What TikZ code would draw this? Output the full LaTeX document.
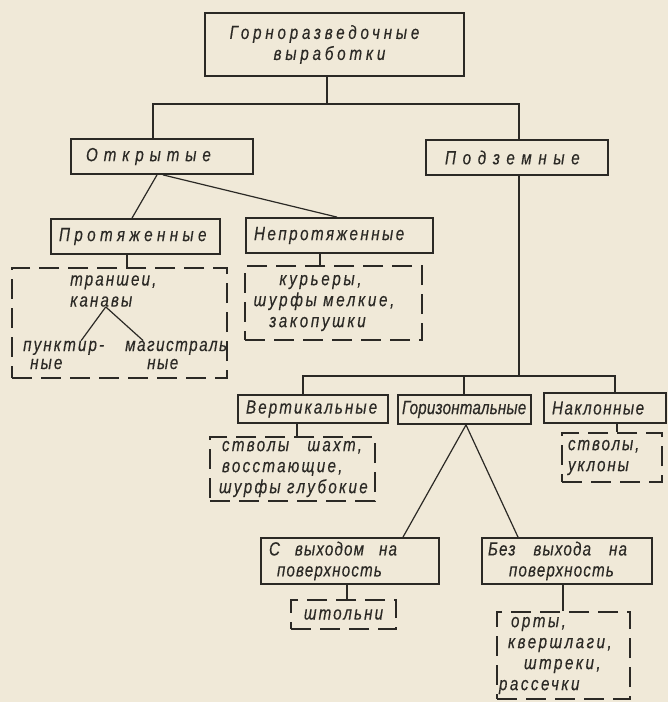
\documentclass[tikz,border=0pt]{standalone}
\usepackage{fontspec}
\setmainfont{Liberation Sans}
\definecolor{paper}{HTML}{F0E9D8}
\definecolor{ink}{HTML}{2B2925}
\newcommand\gost[1]{\fontsize{19}{21}\selectfont\itshape\addfontfeatures{FakeStretch=0.8,FakeBold=0.3,LetterSpace=#1}}
\begin{document}
\begin{tikzpicture}[x=1pt,y=-1pt,
  box/.style={draw=ink,line width=1.8pt,text=ink,inner xsep=8pt,inner ysep=0pt,align=left},
  dbox/.style={draw=ink,line width=1.4pt,dash pattern=on 20pt off 9pt,text=ink,inner xsep=8pt,inner ysep=0pt,align=left},
  lbl/.style={text=ink,inner sep=0pt,align=left},
  con/.style={draw=ink,line width=1.2pt}]
\fill[paper] (0,0) rectangle (668,702);
\useasboundingbox (0,0) rectangle (668,702);
\node[box,align=center,text width=243pt,minimum height=63pt,font=\gost{20}] (top) at (334.5,44.5) {\hspace*{-20pt}Горноразведочные\\\hspace*{-10pt}выработки};
\node[box,text width=166pt,minimum height=35pt,font=\gost{31}] (otkr) at (162,156.5) {\hspace*{7pt}Открытые};
\node[box,text width=166pt,minimum height=35pt,font=\gost{35}] (podz) at (517,157.5) {\hspace*{11pt}Подземные};
\node[box,text width=153pt,minimum height=35pt,font=\gost{23}] (prot) at (135.5,236.5) {Протяженные};
\node[box,text width=171pt,minimum height=35pt,font=\gost{13}] (neprot) at (339.5,235.5) {Непротяженные};
\node[dbox,minimum width=215pt,minimum height=110pt] (trb) at (119.5,323) {};
\node[lbl,anchor=west,font=\gost{11}] (tr) at (70,291) {траншеи,\\канавы};
\node[lbl,anchor=west,font=\gost{11}] (pk) at (23,355) {пунктир-\\[-3pt]\hspace*{7pt}ные};
\node[lbl,anchor=west,font=\gost{8}] (mg) at (125,355) {магистраль\\[-3pt]\hspace*{22pt}ные};
\node[dbox,align=center,inner xsep=5pt,text width=167pt,minimum height=74pt,font=\gost{14}] (kur) at (333.5,303) {\hspace*{-26pt}курьеры,\\\hspace*{-19pt}шурфы мелкие,\\\hspace*{-32pt}закопушки};
\node[box,text width=134pt,minimum height=28pt,font=\gost{11}] (vert) at (313,409) {Вертикальные};
\node[box,inner xsep=4pt,text width=125pt,minimum height=29pt,font=\gost{1}] (horiz) at (464.5,409.5) {Горизонтальные};
\node[box,text width=106pt,minimum height=30pt,font=\gost{8}] (nakl) at (605,408) {Наклонные};
\node[dbox,inner xsep=7pt,text width=151pt,minimum height=64pt,font=\gost{12}] (stv) at (292.5,469) {\hspace*{5pt}\makebox[140pt]{стволы\hfill шахт,}\\\hspace*{5pt}восстающие,\\\hspace*{2pt}\mbox{шурфы глубокие}};
\node[dbox,inner xsep=6pt,text width=88pt,minimum height=49pt,font=\gost{10}] (ukl) at (612,457.5) {стволы,\\уклоны};
\node[box,text width=162pt,minimum height=46pt,font=\gost{6}] (svyh) at (350,561) {\makebox[128pt]{С\hfill выходом\hfill на}\\\hspace*{8pt}поверхность};
\node[box,inner xsep=6pt,text width=158pt,minimum height=46pt,font=\gost{6}] (bezvyh) at (567,561) {\makebox[139pt]{Без\hfill выхода\hfill на}\\\hspace*{21pt}поверхность};
\node[dbox,align=center,inner xsep=7pt,text width=91pt,minimum height=29pt,font=\gost{11}] (shtol) at (343.5,614.5) {штольни};
\node[dbox,inner xsep=2pt,text width=129pt,minimum height=87pt,font=\gost{13}] (orty) at (563.5,655.5) {\hspace*{12pt}орты,\\\hspace*{9pt}квершлаги,\\\hspace*{25pt}штреки,\\рассечки};
\coordinate (j1) at (327,104);
\coordinate (j2) at (519,376);
\draw[con] (top.south -| j1) -- (j1);
\draw[con] ([xshift=-9pt]otkr.north) |- (j1) -| (podz.north -| j2);
\draw[con] (podz.south -| j2) -- (j2);
\draw[con] ([xshift=-10pt]vert.north) |- (j2) -| ([xshift=10pt]nakl.north);
\draw[con] ([xshift=-0.5pt]horiz.north) -- ([xshift=-0.5pt]horiz.north |- j2);
\draw[con] ([xshift=-5pt]otkr.south) -- ([xshift=-3.5pt]prot.north);
\draw[con] ([xshift=1pt]otkr.south) -- ([xshift=-2.5pt]neprot.north);
\draw[con] ([xshift=-8.5pt]prot.south) -- ([xshift=-8.5pt]prot.south |- trb.north);
\draw[con] ([xshift=-19.5pt]neprot.south) -- ([xshift=-19.5pt]neprot.south |- kur.north);
\draw[con] ([xshift=-7.5pt]tr.south) -- ([xshift=17.5pt]pk.north);
\draw[con] ([xshift=-7.5pt]tr.south) -- ([xshift=-33pt]mg.north);
\draw[con] ([xshift=-16pt]vert.south) -- ([xshift=-16pt]vert.south |- stv.north);
\draw[con] ([xshift=12pt]nakl.south) -- ([xshift=12pt]nakl.south |- ukl.north);
\draw[con] ([xshift=1.5pt]horiz.south) -- ([xshift=53pt]svyh.north);
\draw[con] ([xshift=1.5pt]horiz.south) -- ([xshift=-49pt]bezvyh.north);
\draw[con] ([xshift=-3pt]svyh.south) -- ([xshift=-3pt]svyh.south |- shtol.north);
\draw[con] ([xshift=-4pt]bezvyh.south) -- ([xshift=-4pt]bezvyh.south |- orty.north);
\end{tikzpicture}
\end{document}
